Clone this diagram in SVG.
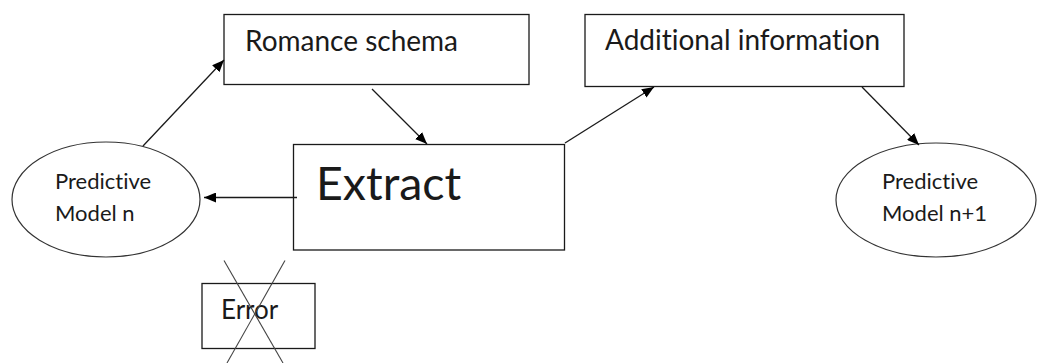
<svg xmlns="http://www.w3.org/2000/svg" width="1037" height="363" viewBox="0 0 1037 363">
  <style>
    .box { fill: #ffffff; stroke: #1a1a1a; stroke-width: 1.3; }
    .oval { fill: #ffffff; stroke: #333333; stroke-width: 1.2; }
    .lbl { font-family: Lato, "Open Sans", sans-serif; fill: #1a1a1a; font-variant-ligatures: none; }
    .edge { stroke: #1a1a1a; stroke-width: 1.3; fill: none; marker-end: url(#head); }
    .cross { stroke: #444444; stroke-width: 1.1; }
  </style>
  <defs>
    <marker id="head" viewBox="0 0 12 10" refX="12" refY="5" markerWidth="12" markerHeight="10" markerUnits="userSpaceOnUse" orient="auto">
      <path d="M0,0 L12,5 L0,10 z" fill="#000000"/>
    </marker>
  </defs>
  <rect width="1037" height="363" fill="#ffffff"/>

  <g id="romance-schema">
    <rect class="box" x="224" y="14.5" width="305" height="70"/>
    <text class="lbl" x="245" y="51" font-size="28">Romance schema</text>
  </g>

  <g id="extract">
    <rect class="box" x="293.5" y="144.5" width="271" height="105.5"/>
    <text class="lbl" x="316" y="200" font-size="46.5">Extract</text>
  </g>

  <g id="additional-information">
    <rect class="box" x="585" y="14.5" width="319" height="72"/>
    <text class="lbl" x="605" y="50" font-size="28">Additional information</text>
  </g>

  <g id="model-n">
    <ellipse class="oval" cx="106" cy="199.5" rx="94" ry="57.5"/>
    <text class="lbl" font-size="22"><tspan x="55" y="189">Predictive</tspan><tspan x="55" y="221">Model n</tspan></text>
  </g>

  <g id="model-n1">
    <ellipse class="oval" cx="936" cy="200" rx="100" ry="57"/>
    <text class="lbl" font-size="22"><tspan x="882" y="189">Predictive</tspan><tspan x="882" y="221">Model n+1</tspan></text>
  </g>

  <g id="error">
    <rect class="box" x="202" y="283.5" width="113" height="65"/>
    <text class="lbl" x="221" y="319" font-size="26">Error</text>
    <line class="cross" x1="224" y1="260.5" x2="283" y2="363"/>
    <line class="cross" x1="285" y1="260.5" x2="227" y2="363"/>
  </g>

  <g id="connectors">
    <line class="edge" x1="143" y1="146" x2="224" y2="60"/>
    <line class="edge" x1="372" y1="89" x2="427" y2="144"/>
    <line class="edge" x1="297" y1="197.5" x2="204" y2="197.5"/>
    <line class="edge" x1="565" y1="143" x2="654" y2="87"/>
    <line class="edge" x1="862" y1="87" x2="919" y2="145"/>
  </g>
</svg>
